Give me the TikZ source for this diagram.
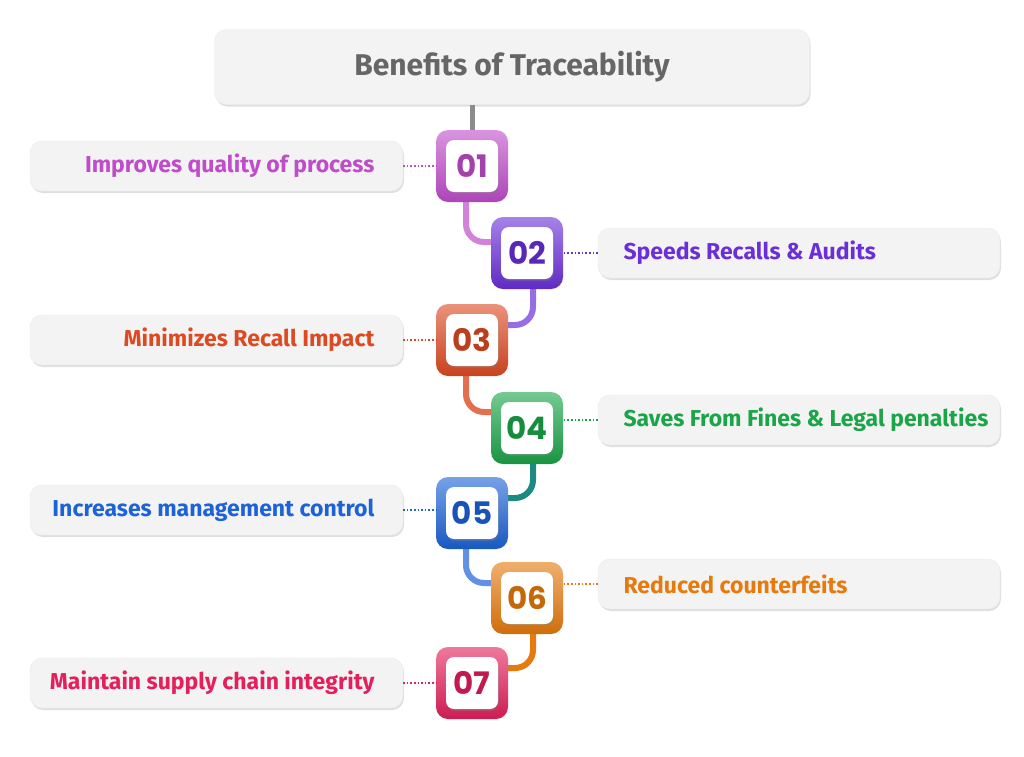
\documentclass[tikz,border=0pt]{standalone}
\usepackage{fontspec}
\setmainfont{Fira Sans}
\newfontfamily\numfont{Poppins}
\usetikzlibrary{shadows}
\definecolor{c1}{HTML}{C04CCC}\definecolor{c2}{HTML}{6A2FD8}\definecolor{c3}{HTML}{DD4A22}
\definecolor{c4}{HTML}{1AA548}\definecolor{c5}{HTML}{1C62D8}\definecolor{c6}{HTML}{E67A0C}\definecolor{c7}{HTML}{E41F5C}
\definecolor{boxbg}{HTML}{F3F3F3}
\tikzset{
 lbox/.style={rounded corners=12pt,fill=boxbg,draw=black!8,drop shadow={shadow xshift=1pt,shadow yshift=-2pt,opacity=.25},minimum height=50pt,inner sep=0pt},
 sq/.style={rounded corners=12pt,minimum width=72pt,minimum height=72pt,inner sep=0pt},
 inner/.style={rounded corners=8pt,fill=white,minimum width=52pt,minimum height=52pt,inner sep=0pt,font=\numfont\bfseries\fontsize{31}{31}\selectfont},
 dot/.style={dotted,line width=1.6pt},
 pipe/.style={line width=6pt,rounded corners=18pt},
 ltxt/.style={font=\bfseries\fontsize{23}{24}\selectfont}
}
\begin{document}
\begin{tikzpicture}[x=1pt,y=-1pt]
\useasboundingbox (0,0) rectangle (1024,756);
\node[lbox,minimum width=595pt,minimum height=75pt,font=\bfseries\fontsize{30}{32}\selectfont,text=black!60] (t) at (512,67) {Benefits of Traceability};
\draw[line width=5pt,black!45] (472,105) -- (472,135);
% pipes
\coordinate (p1) at (466,195); \coordinate (q1) at (500,242);
\draw[pipe,c1!70] (p1) |- (q1);
\coordinate (p2) at (533,285); \coordinate (q2) at (500,325);
\draw[pipe,c2!70] (p2) |- (q2);
\coordinate (p3) at (466,370); \coordinate (q3) at (500,412);
\draw[pipe,c3!80] (p3) |- (q3);
\coordinate (p4) at (533,458); \coordinate (q4) at (500,498);
\draw[pipe,c4!60!c5] (p4) |- (q4);
\coordinate (p5) at (466,543); \coordinate (q5) at (500,583);
\draw[pipe,c5!70] (p5) |- (q5);
\coordinate (p6) at (533,628); \coordinate (q6) at (500,668);
\draw[pipe,c6] (p6) |- (q6);
\foreach \n/\x/\y/\c in {1/472/166/c1,2/527/253/c2,3/472/340/c3,4/527/428/c4,5/472/513/c5,6/527/598/c6,7/472/683/c7}{
  \node[sq,top color=\c!60,bottom color=\c!90!black,draw=none] (s\n) at (\x,\y) {};
  \node[inner,text=\c!85!black,drop shadow={shadow xshift=1pt,shadow yshift=-2pt,opacity=.3}] (i\n) at (\x,\y) {0\n};
}
% labels
\tikzset{lt/.style={lbox,minimum width=373pt},rt/.style={lbox,minimum width=402pt}}
\node[lt] (b1) at (216.5,166) {}; \node[anchor=east,ltxt,text=c1] at (378,166) {Improves quality of process};
\node[rt] (b2) at (799,253) {}; \node[anchor=west,ltxt,text=c2] at (620,253) {Speeds Recalls \& Audits};
\node[lt] (b3) at (216.5,340) {}; \node[anchor=east,ltxt,text=c3] at (378,340) {Minimizes Recall Impact};
\node[rt] (b4) at (799,420) {}; \node[anchor=west,ltxt,text=c4] at (620,420) {Saves From Fines \& Legal penalties};
\node[lt] (b5) at (216.5,510) {}; \node[anchor=east,ltxt,text=c5] at (378,510) {Increases management control};
\node[rt] (b6) at (799,584) {}; \node[anchor=west,ltxt,text=c6] at (620,584) {Reduced counterfeits};
\node[lt] (b7) at (216.5,683) {}; \node[anchor=east,ltxt,text=c7] at (378,683) {Maintain supply chain integrity};
\foreach \n/\c in {1/c1,3/c3,5/c5,7/c7}{\draw[dot,\c] (b\n.east) -- (s\n.west|-b\n.east);}
\foreach \n/\c in {2/c2,4/c4,6/c6}{\draw[dot,\c] (b\n.west) -- (s\n.east|-b\n.west);}
\end{tikzpicture}
\end{document}
